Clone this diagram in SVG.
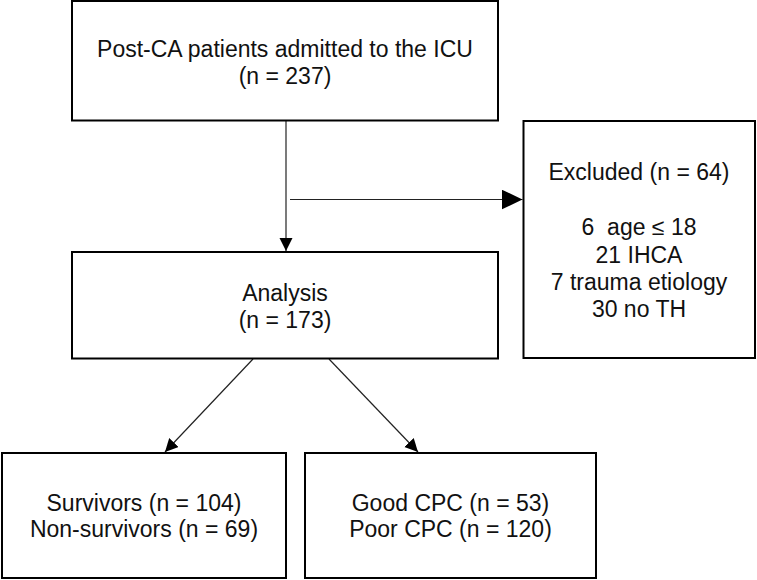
<svg xmlns="http://www.w3.org/2000/svg" width="757" height="580" viewBox="0 0 757 580">
<defs>
<style>
.box{fill:#fff;stroke:#000;stroke-width:2}
.t{font-family:"Liberation Sans",Arial,sans-serif;font-size:23px;fill:#111;text-anchor:middle;white-space:pre}
.c{stroke:#222;stroke-width:1.2;fill:none}
</style>
<marker id="ah" markerUnits="userSpaceOnUse" markerWidth="14" markerHeight="14" refX="13" refY="6.5" orient="auto"><path d="M0,0 L13,6.5 L0,13 z" fill="#000"/></marker>
<marker id="ahBig" markerUnits="userSpaceOnUse" markerWidth="21" markerHeight="20" refX="20.5" refY="9.75" orient="auto"><path d="M0,0 L20.5,9.75 L0,19.5 z" fill="#000"/></marker>
</defs>
<rect width="757" height="580" fill="#fff"/>
<g id="connectors">
<line class="c" x1="286" y1="121" x2="286" y2="251" marker-end="url(#ah)"/>
<line class="c" x1="290" y1="199.5" x2="522.5" y2="199.5" marker-end="url(#ahBig)"/>
<line class="c" x1="253" y1="359" x2="165" y2="452" marker-end="url(#ah)"/>
<line class="c" x1="329" y1="359" x2="418" y2="452" marker-end="url(#ah)"/>
</g>
<g id="admitted">
<rect class="box" x="72" y="1" width="426" height="119.5"/>
<text class="t" x="285" y="57">Post-CA patients admitted to the ICU</text>
<text class="t" x="285" y="83.5">(n = 237)</text>
</g>
<g id="excluded">
<rect class="box" x="523.5" y="121" width="231.5" height="237"/>
<text class="t" x="639" y="180">Excluded (n = 64)</text>
<text class="t" x="639" y="235">6  age ≤ 18</text>
<text class="t" x="639" y="262.5">21 IHCA</text>
<text class="t" x="639" y="290">7 trauma etiology</text>
<text class="t" x="639" y="317">30 no TH</text>
</g>
<g id="analysis">
<rect class="box" x="72" y="252" width="426" height="106.5"/>
<text class="t" x="285" y="300.5">Analysis</text>
<text class="t" x="285" y="328">(n = 173)</text>
</g>
<g id="survival">
<rect class="box" x="2" y="453" width="284" height="125"/>
<text class="t" x="144" y="510.5">Survivors (n = 104)</text>
<text class="t" x="144" y="537">Non-survivors (n = 69)</text>
</g>
<g id="cpc">
<rect class="box" x="305" y="453" width="291" height="125"/>
<text class="t" x="450.5" y="510.5">Good CPC (n = 53)</text>
<text class="t" x="450.5" y="537">Poor CPC (n = 120)</text>
</g>
</svg>
